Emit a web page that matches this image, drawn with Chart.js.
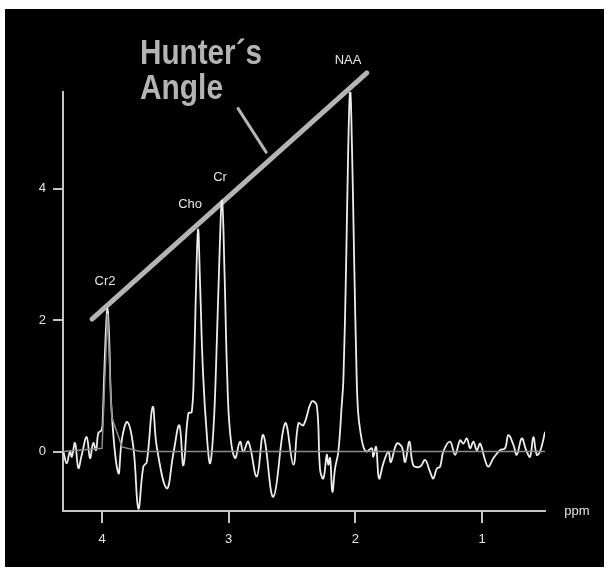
<!DOCTYPE html>
<html>
<head>
<meta charset="utf-8">
<script src="https://cdn.jsdelivr.net/npm/chart.js@4.4.1/dist/chart.umd.min.js"></script>
<style>
  html, body { margin: 0; padding: 0; background: #fff; }
  #wrap { position: absolute; left: 5px; top: 9px; width: 599px; height: 558px; background: #000; }
  canvas { display: block; }
</style>
</head>
<body>
<div id="wrap"><canvas id="mrs" width="599" height="558"></canvas></div>
<script>
// spectrum (ppm, amplitude)
const ppm = [4.305, 4.279, 4.253, 4.239, 4.213, 4.187, 4.160, 4.121, 4.095, 4.069, 4.047, 4.029, 4.002, 3.994,
  3.984, 3.968, 3.957, 3.945, 3.923, 3.871, 3.842, 3.800, 3.753, 3.713, 3.674, 3.647, 3.600, 3.568, 3.489,
  3.437, 3.390, 3.358, 3.319, 3.292, 3.274, 3.258, 3.242, 3.227, 3.203, 3.171, 3.147, 3.121, 3.100, 3.076,
  3.053, 3.033, 3.013, 2.990, 2.950, 2.911, 2.885, 2.845, 2.779, 2.727, 2.648, 2.555, 2.490, 2.450, 2.411,
  2.345, 2.305, 2.279, 2.253, 2.226, 2.214, 2.200, 2.182, 2.161, 2.135, 2.108, 2.095, 2.074, 2.058, 2.042,
  2.027, 2.011, 1.990, 1.979, 1.963, 1.937, 1.911, 1.871, 1.859, 1.837, 1.814, 1.780, 1.740, 1.721, 1.674,
  1.634, 1.608, 1.574, 1.543, 1.490, 1.450, 1.411, 1.385, 1.358, 1.332, 1.306, 1.253, 1.214, 1.174, 1.148,
  1.121, 1.095, 1.069, 1.042, 1.016, 0.977, 0.951, 0.911, 0.859, 0.819, 0.793, 0.753, 0.727, 0.687, 0.653,
  0.622, 0.596, 0.569, 0.543, 0.503];
const signal = [0.00, -0.18, 0.00, -0.08, 0.13, -0.25, -0.05, 0.22, -0.10, 0.13, 0.02, 0.28, 0.33, 0.53,
  1.10, 1.90, 2.17, 1.80, 0.58, -0.33, 0.20, 0.45, 0.07, -0.87, -0.23, -0.16, 0.68, 0.07, -0.56,
  -0.03, 0.40, -0.21, 0.58, 0.60, 1.30, 2.50, 3.38, 2.60, 1.20, 0.20, -0.18, 0.33, 1.30, 2.80,
  3.82, 2.70, 1.20, 0.30, -0.10, 0.15, 0.00, 0.15, -0.38, 0.25, -0.69, 0.43, -0.20, 0.43, 0.40,
  0.76, 0.70, -0.28, -0.41, -0.05, -0.20, -0.10, -0.61, -0.26, 0.00, 0.71, 1.10, 2.80, 4.50, 5.50,
  4.60, 3.00, 1.10, 0.60, 0.33, 0.07, 0.00, 0.05, -0.08, 0.07, -0.41, -0.18, 0.00, -0.16, 0.12,
  0.07, -0.16, 0.15, -0.21, -0.23, -0.13, -0.31, -0.41, -0.26, -0.23, 0.00, 0.15, -0.05, 0.17, 0.12,
  0.20, 0.05, 0.15, 0.02, 0.12, -0.13, -0.23, -0.10, 0.02, 0.05, 0.25, 0.10, -0.05, 0.20, 0.02,
  -0.08, 0.22, -0.05, 0.00, 0.30];

// grey fitted baseline
const fitPpm = [4.305, 4.000, 3.957, 3.923, 3.842, 3.700, 0.503];
const fitSignal = [0.00, 0.05, 2.10, 0.52, 0.07, 0.00, 0.00];

// Hunter's angle line and its pointer
const anglePpm = [4.079, 1.910];
const angleVal = [2.015, 5.760];
const pointerPpm = [2.927, 2.705];
const pointerVal = [5.220, 4.555];

const peakNames = ['Cr2', 'Cho', 'Cr', 'NAA'];
const peakPpm = [3.976, 3.305, 3.069, 2.058];
const peakVal = [2.59, 3.76, 4.17, 5.95];

const xTicks = [1, 2, 3, 4];
const yTicks = [0, 2, 4];

const pts = (xs, ys) => xs.map((x, i) => ({ x, y: ys[i] }));
const axisGrey = '#c4c4c4';

const labels = {
  id: 'labels',
  afterDatasetsDraw(chart) {
    const { ctx, scales: { x, y }, chartArea } = chart;
    ctx.save();
    ctx.fillStyle = '#e6e6e6';
    ctx.font = '13px "Liberation Sans", Arial, sans-serif';
    ctx.textAlign = 'center';
    ctx.textBaseline = 'middle';
    peakNames.forEach((n, i) => ctx.fillText(n, x.getPixelForValue(peakPpm[i]), y.getPixelForValue(peakVal[i])));
    ctx.fillText('ppm', chartArea.right + 32, chartArea.bottom);

    ctx.fillStyle = '#b4b4b4';
    ctx.font = 'bold 35px "Liberation Sans", Arial, sans-serif';
    ctx.textAlign = 'left';
    ctx.textBaseline = 'alphabetic';
    const lx = x.getPixelForValue(3.70);
    ctx.fillText('Hunter\u00b4s', lx, y.getPixelForValue(5.89), 122);
    ctx.fillText('Angle', lx, y.getPixelForValue(5.37), 83);
    ctx.restore();
  }
};

new Chart(document.getElementById('mrs'), {
  type: 'line',
  data: {
    datasets: [
      { data: pts(fitPpm, fitSignal), borderColor: '#8c8c8c', borderWidth: 1.5, pointRadius: 0, tension: 0 },
      { data: pts(ppm, signal), borderColor: '#eeeeee', borderWidth: 1.8, pointRadius: 0, tension: 0.4 },
      { data: pts(anglePpm, angleVal), borderColor: '#b4b4b4', borderWidth: 5, borderCapStyle: 'round', pointRadius: 0, clip: false },
      { data: pts(pointerPpm, pointerVal), borderColor: '#b4b4b4', borderWidth: 3, borderCapStyle: 'round', pointRadius: 0 }
    ]
  },
  options: {
    responsive: false,
    animation: false,
    devicePixelRatio: 1,
    layout: { padding: { top: 83, right: 59, left: 0, bottom: 0 } },
    plugins: { legend: { display: false }, tooltip: { enabled: false } },
    scales: {
      x: {
        type: 'linear', reverse: true, min: 0.504, max: 4.308,
        afterBuildTicks: s => { s.ticks = xTicks.map(v => ({ value: v })); },
        afterFit: s => { s.height = 56; },
        grid: { drawOnChartArea: false, color: axisGrey, lineWidth: 2, tickLength: 12 },
        border: { color: axisGrey, width: 2 },
        ticks: { color: '#e6e6e6', padding: 9, maxRotation: 0, font: { size: 13, family: '"Liberation Sans", Arial' } }
      },
      y: {
        min: -0.905, max: 5.47,
        afterBuildTicks: s => { s.ticks = yTicks.map(v => ({ value: v })); },
        afterFit: s => { s.width = 58; },
        grid: { drawOnChartArea: false, color: axisGrey, lineWidth: 2, tickLength: 10 },
        border: { color: axisGrey, width: 2 },
        ticks: { color: '#e6e6e6', padding: 7, font: { size: 13, family: '"Liberation Sans", Arial' } }
      }
    }
  },
  plugins: [labels]
});
</script>
</body>
</html>
